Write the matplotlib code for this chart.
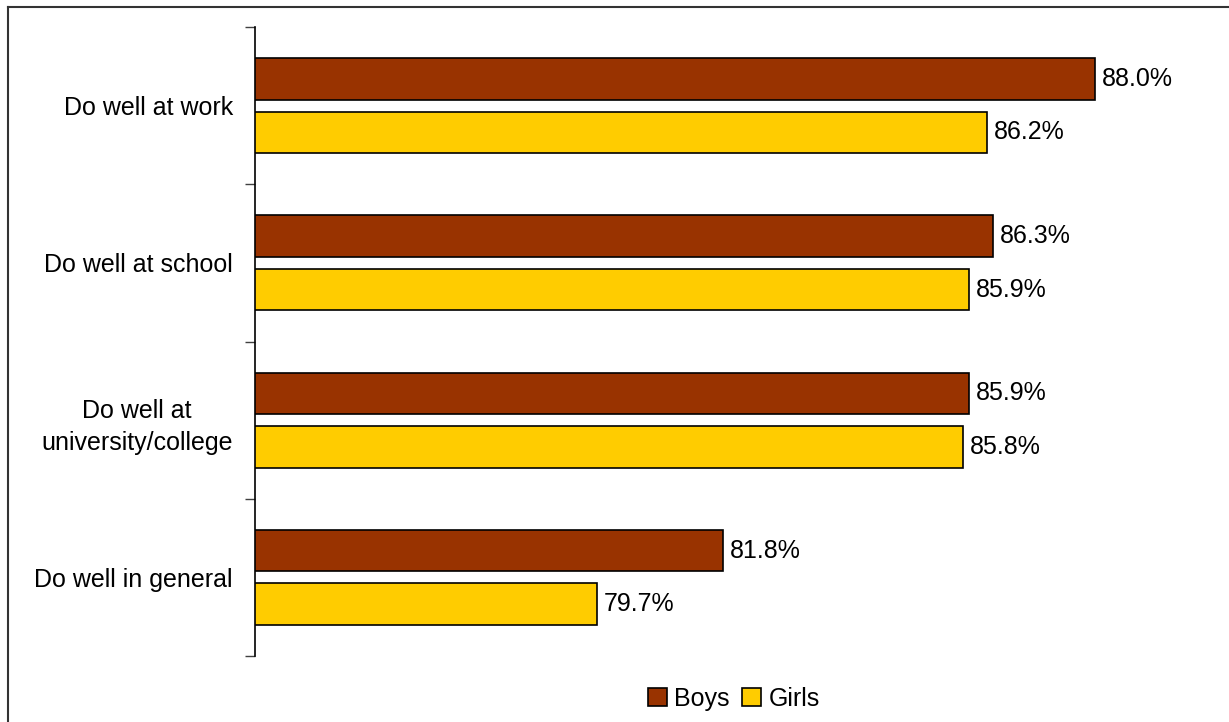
import matplotlib
matplotlib.use("Agg")
import matplotlib.pyplot as plt
import numpy as np
import matplotlib.transforms as mtransforms
from matplotlib.lines import Line2D

plt.rcParams['font.family'] = ['Liberation Sans', 'DejaVu Sans']

categories = ["Do well at work", "Do well at school", "Do well at\nuniversity/college", "Do well in general"]
boys = [88.0, 86.3, 85.9, 81.8]
girls = [86.2, 85.9, 85.8, 79.7]
series_names = ["Boys", "Girls"]
colors = ["#993300", "#FFCC00"]

FS = 18

fig = plt.figure(figsize=(12.29, 7.22), dpi=100)
ax = fig.add_axes([255/1229, 1-656/722, 960/1229, (656-27)/722])

n = len(categories)
y = np.arange(n)[::-1].astype(float)  # top category at highest y
off = 0.17
h = 0.265
b1 = ax.barh(y + off, boys, height=h, color=colors[0], edgecolor='black', linewidth=1.2, label=series_names[0])
b2 = ax.barh(y - off, girls, height=h, color=colors[1], edgecolor='black', linewidth=1.2, label=series_names[1])

ax.set_xlim(74, 90)
ax.set_ylim(-0.5, n - 0.5)

for yy, v in zip(y + off, boys):
    ax.text(v + 0.12, yy, f"{v:.1f}%", va='center', ha='left', fontsize=FS)
for yy, v in zip(y - off, girls):
    ax.text(v + 0.12, yy, f"{v:.1f}%", va='center', ha='left', fontsize=FS)

for s in ['top', 'right', 'bottom']:
    ax.spines[s].set_visible(False)
ax.spines['left'].set_linewidth(1.2)
ax.set_xticks([])
ax.set_yticks(y)
ax.set_yticklabels(categories, fontsize=FS, multialignment='center', linespacing=1.45)
ax.tick_params(axis='y', which='major', length=0)
ax.set_yticks(np.arange(-0.5, n, 1.0), minor=True)
ax.tick_params(axis='y', which='minor', length=7, width=1.0, color='#404040')
tr = mtransforms.blended_transform_factory(fig.transFigure, ax.transData)
for lbl in ax.get_yticklabels():
    lbl.set_transform(tr)
    lbl.set_horizontalalignment('right')
    lbl.set_x(233 / 1229)

leg = fig.legend(handles=[b1, b2], labels=series_names, loc='center', bbox_to_anchor=(0.597, 1-699/722),
                 ncol=2, frameon=False, fontsize=FS, handlelength=0.75, handleheight=0.75,
                 handletextpad=0.3, columnspacing=0.5)

# figure border (left and top)
fig.add_artist(Line2D([8/1229, 8/1229], [0, 1-6.5/722], transform=fig.transFigure, color='#333333', linewidth=1.5))
fig.add_artist(Line2D([8/1229, 1], [1-6.5/722, 1-6.5/722], transform=fig.transFigure, color='#333333', linewidth=1.5))

fig.savefig("out.png", dpi=100)
